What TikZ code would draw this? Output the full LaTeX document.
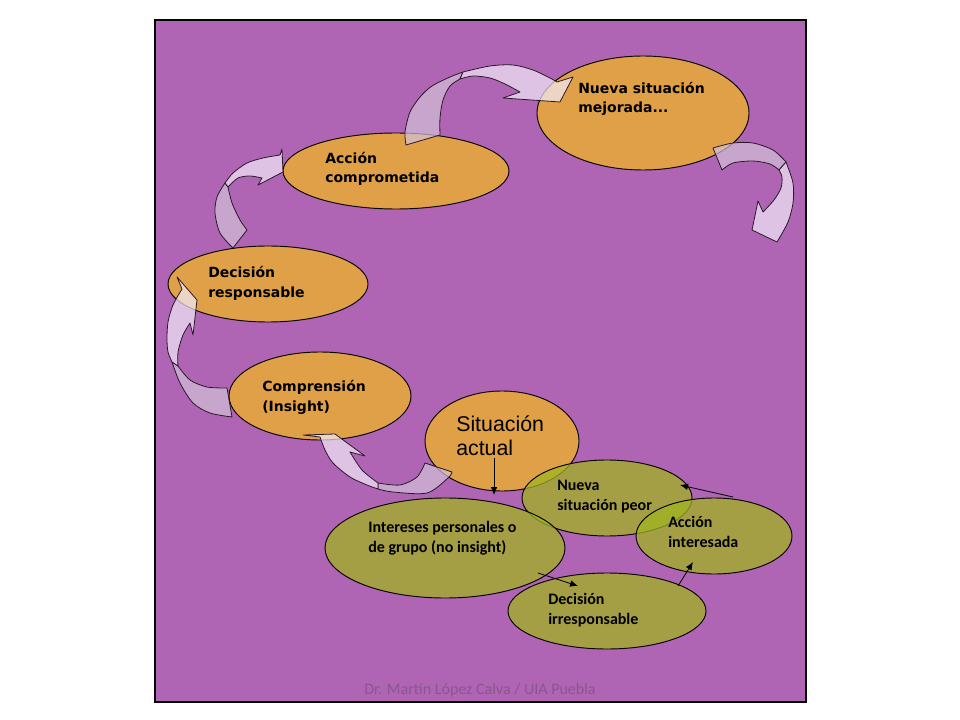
\documentclass[tikz,border=0pt]{standalone}
\usepackage{fontspec}
\setmainfont{DejaVu Sans}
\newfontfamily\calibrifont{Carlito}
\newfontfamily\arialfont{Liberation Sans}
\usetikzlibrary{shapes.geometric,arrows.meta}
\definecolor{fondo}{RGB}{176,100,180}
\definecolor{naranja}{RGB}{224,160,72}
\definecolor{oliva}{RGB}{161,180,33}
\definecolor{flechaclara}{RGB}{242,236,249}
\definecolor{flechaoscura}{RGB}{210,193,216}
\definecolor{borde}{RGB}{40,25,40}
\definecolor{pie}{RGB}{138,86,142}
\tikzset{
  oval/.style 2 args={ellipse, draw=black, line width=0.7pt, minimum width=#1*0.75pt, minimum height=#2*0.75pt, inner sep=0pt},
  orangeoval/.style 2 args={oval={#1}{#2}, fill=naranja},
  oliveoval/.style 2 args={oval={#1}{#2}, fill=oliva, fill opacity=0.75},
  tag/.style={anchor=base west, inner sep=0pt, align=left, font=\bfseries\fontsize{10.5}{14.6}\selectfont},
  smalltag/.style={tag, font=\calibrifont\bfseries\fontsize{12}{14.8}\selectfont},
  bandfront/.style={fill=flechaclara, fill opacity=0.7, draw=borde, line width=0.6pt, line join=round},
  bandback/.style={bandfront, fill=flechaoscura},
  >={Latex[length=6pt,width=5pt]}
}
\begin{document}
\begin{tikzpicture}[x=0.75pt,y=-0.75pt]
			\useasboundingbox (0,0) rectangle (960,720);
			\draw[fill=fondo, line width=0.8pt] (155,20) rectangle (806,702);
			% camino responsable
			\node[orangeoval={212}{114}] (mejorada) at (643,113) {};
			\node[orangeoval={226}{76}] (comprometida) at (396,171) {};
			\node[orangeoval={200}{76}] (responsable) at (268,284) {};
			\node[orangeoval={182}{88}] (insight) at (320,396) {};
			\node[orangeoval={154}{100}] (actual) at (502,441) {};
			% camino irresponsable
			\node[oliveoval={170}{76}] (peor) at (607,498) {};
			\node[oliveoval={240}{100}] (intereses) at (445,548) {};
			\node[oliveoval={156}{76}] (interesada) at (714,536) {};
			\node[oliveoval={198}{76}] (irresponsable) at (607,611) {};
			% flechas curvas
			\draw[bandback] plot[smooth] coordinates {(378,489) (393,492) (427,493) (448,478) (452,472)} -- (425,463) -- plot[smooth] coordinates {(425,463) (417,477) (400,485) (378,483)} -- cycle;
			\draw[bandfront] plot[smooth] coordinates {(378,489) (367,485) (350,477) (333,463) (325,450) (320,437)} -- (303,435) -- (335,434) -- (365,456) -- (350,452) -- plot[smooth] coordinates {(350,452) (362,470) (378,483)} -- cycle;
			\draw[bandback] plot[smooth] coordinates {(232,417) (210,413) (193,403) (180,383) (172,362)} -- plot[smooth] coordinates {(178,366) (190,380) (207,387) (227,388)} -- cycle;
			\draw[bandfront] plot[smooth] coordinates {(172,362) (168,352) (167,339) (168,322) (173,305) (182,289)} -- (177,277) -- (197,300) -- (193,335) -- (190,323) -- plot[smooth] coordinates {(190,323) (183,335) (178,352) (178,366)} -- cycle;
			\draw[bandback] plot[smooth] coordinates {(233,248) (220,233) (215,213) (217,197) (225,183)} -- plot[smooth] coordinates {(228,187) (232,203) (240,220) (247,230)} -- cycle;
			\draw[bandfront] plot[smooth] coordinates {(225,183) (233,173) (247,163) (263,158) (280,155)} -- (282,149) -- (283,172) -- (258,185) -- (262,178) -- plot[smooth] coordinates {(262,178) (250,176) (238,178) (228,187)} -- cycle;
			\draw[bandback] plot[smooth] coordinates {(406,145) (405,132) (410,112) (420,97) (432,86) (450,77) (463,72)} -- plot[smooth] coordinates {(460,79) (450,86) (443,100) (440,118) (440,135)} -- cycle;
			\draw[bandfront] plot[smooth] coordinates {(463,72) (490,66) (513,65) (533,70) (550,78) (557,82)} -- (573,77) -- (560,102) -- (503,98) -- (520,92) -- plot[smooth] coordinates {(520,92) (505,84) (490,78) (473,76) (460,79)} -- cycle;
			\draw[bandback] plot[smooth] coordinates {(713,148) (733,143) (753,143) (773,150) (786,162)} -- plot[smooth] coordinates {(779,170) (770,164) (753,161) (733,163) (722,170)} -- cycle;
			\draw[bandfront] plot[smooth] coordinates {(786,162) (793,183) (793,203) (788,222) (777,242)} -- (752,230) -- (758,201) -- (763,212) -- plot[smooth] coordinates {(763,212) (774,200) (781,188) (782,177) (779,170)} -- cycle;
			% textos (base = ultima linea)
			\node[tag] (mejorada-t) at (578,113) {Nueva situación\\mejorada...};
			\node[tag] (comprometida-t) at (325,183) {Acción\\comprometida};
			\node[tag] (responsable-t) at (208,297) {Decisión\\responsable};
			\node[tag] (insight-t) at (262,411) {Comprensión\\(Insight)};
			\node[tag, font=\arialfont\fontsize{16}{17.5}\selectfont] (actual-t) at (456,455) {Situación\\actual};
			\node[smalltag] (peor-t) at (557,510) {Nueva\\situación peor};
			\node[smalltag] (intereses-t) at (368,552) {Intereses personales o\\de grupo (no insight)};
			\node[smalltag] (interesada-t) at (668,547) {Acción\\interesada};
			\node[smalltag] (irresponsable-t) at (548,624) {Decisión\\irresponsable};
			\node[anchor=base, text=pie, font=\calibrifont\fontsize{12}{14}\selectfont] (autor) at (480,694) {Dr. Martín López Calva / UIA Puebla};
			% flechas pequeñas
			\draw[->, line width=0.6pt] ([shift={(-8,17)}]actual.center) -- ([shift={(49,-53)}]intereses.center);
			\draw[->, line width=0.6pt] ([shift={(93,25)}]intereses.center) -- ([shift={(-29,-25)}]irresponsable.center);
			\draw[->, line width=0.6pt] ([shift={(71,-25)}]irresponsable.center) -- ([shift={(-21,26)}]interesada.center);
			\draw[->, line width=0.6pt] ([shift={(19,-39)}]interesada.center) -- ([shift={(73,-13)}]peor.center);
		\end{tikzpicture}
\end{document}
